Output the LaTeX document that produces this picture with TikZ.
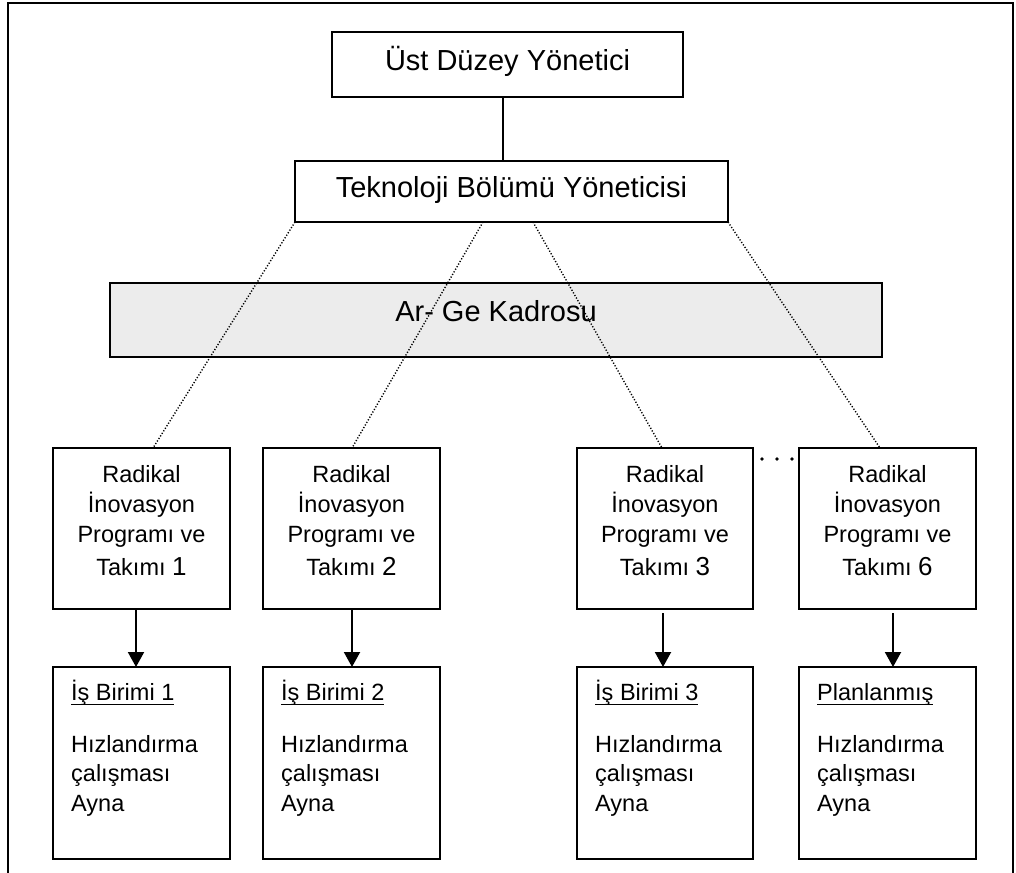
\documentclass[tikz,border=0pt]{standalone}
\usepackage{fontspec}
\setmainfont{Liberation Sans}
\usetikzlibrary{arrows.meta}
% underline drawn as a rule a few points below the baseline
\newcommand\ulbar[1]{\setbox0=\hbox{#1}\rlap{\rule[-5pt]{\wd0}{1.5pt}}\box0}
\newcommand\bigtxt{\fontsize{29pt}{34pt}\selectfont}
\newcommand\midtxt{\fontsize{23.5pt}{28pt}\selectfont}
\newcommand\numtxt{\fontsize{26pt}{30pt}\selectfont}

\begin{document}
\begin{tikzpicture}[x=1pt,y=-1pt,
  box/.style={draw, line width=1.5pt, inner sep=0pt, outer sep=0pt},
  greybox/.style={box, fill=gray!15},
  solidlink/.style={line width=1.5pt},
  dotlink/.style={line width=1.4pt, dash pattern=on 1.2pt off 1.8pt},
  arr/.style={line width=2pt, -{Triangle[length=15pt,width=16pt]}},
  lbl/.style={anchor=base, inner sep=0pt},
  frame/.style={line width=2pt}]

\useasboundingbox (0,0) rectangle (1016,872);

% outer frame
\draw[frame] (8,880) -- (8,2.7) -- (1013,2.7) -- (1013,880);

% upper management boxes
\node[box, minimum width=351pt, minimum height=65pt] (top) at (507.5,64.5) {};
\node[lbl, font=\bigtxt] (top-t) at ([yshift=-6.2pt]top.center) {Üst Düzey Yönetici};

\node[box, minimum width=433pt, minimum height=61pt] (tek) at (511.5,191.5) {};
\node[lbl, font=\bigtxt] (tek-t) at ([yshift=-5.5pt]tek.center) {Teknoloji Bölümü Yöneticisi};

\draw[solidlink] ([xshift=-4.5pt]top.south) -- ([xshift=-8.5pt]tek.north);

% R&D staff band
\node[greybox, minimum width=772pt, minimum height=74pt] (arge) at (496,320) {};
\node[lbl, font=\bigtxt] (arge-t) at ([yshift=-1pt]arge.center) {Ar- Ge Kadrosu};

% programme / team boxes
\foreach \n/\x/\w in {1/141.5/177, 2/351.5/177, 3/665/176, 6/887.5/177} {
  \node[box, minimum width=\w pt, minimum height=161pt] (r\n) at (\x,528.5) {};
  \node[lbl, font=\midtxt] (r\n-a) at ([yshift=-34pt]r\n.north) {Radikal};
  \node[lbl, font=\midtxt] (r\n-b) at ([yshift=-64pt]r\n.north) {İnovasyon};
  \node[lbl, font=\midtxt] (r\n-c) at ([yshift=-94pt]r\n.north) {Programı ve};
  \node[lbl, font=\midtxt] (r\n-d) at ([yshift=-127pt]r\n.north) {Takımı {\numtxt\n}};
}

% business unit boxes
\foreach \n/\x/\w/\head in {1/141.5/177/İş Birimi 1, 2/351.5/177/İş Birimi 2, 3/665/176/İş Birimi 3, 6/887.5/177/Planlanmış} {
  \node[box, minimum width=\w pt, minimum height=192pt] (b\n) at (\x,763) {};
  \node[lbl, anchor=base west, font=\midtxt] (b\n-a) at ([xshift=18pt,yshift=-33pt]b\n.north west) {\ulbar{\head}};
  \node[lbl, anchor=base west, font=\midtxt] (b\n-b) at ([xshift=18pt,yshift=-85pt]b\n.north west) {Hızlandırma};
  \node[lbl, anchor=base west, font=\midtxt] (b\n-c) at ([xshift=18pt,yshift=-114pt]b\n.north west) {çalışması};
  \node[lbl, anchor=base west, font=\midtxt] (b\n-d) at ([xshift=18pt,yshift=-144pt]b\n.north west) {Ayna};
}

% dotted reporting lines
\draw[dotlink] (tek.south west) -- ([xshift=11.5pt]r1.north);
\draw[dotlink] ([xshift=-28.5pt]tek.south) -- ([xshift=0.5pt]r2.north);
\draw[dotlink] ([xshift=21.5pt]tek.south) -- ([xshift=-3pt]r3.north);
\draw[dotlink] (tek.south east) -- ([xshift=-7.5pt]r6.north);

% ellipsis between team 3 and team 6
\foreach \dx in {762,777,792} \fill (\dx,459) circle (1.8pt);

% arrows down to the business units
\draw[arr] ([xshift=-5.5pt]r1.south) -- ([xshift=-5.5pt]b1.north);
\draw[arr] ([xshift=0.5pt]r2.south) -- ([xshift=0.5pt]b2.north);
\draw[arr] ([xshift=-2pt,yshift=-4pt]r3.south) -- ([xshift=-2pt]b3.north);
\draw[arr] ([xshift=5.5pt,yshift=-4pt]r6.south) -- ([xshift=5.5pt]b6.north);

\end{tikzpicture}
\end{document}
